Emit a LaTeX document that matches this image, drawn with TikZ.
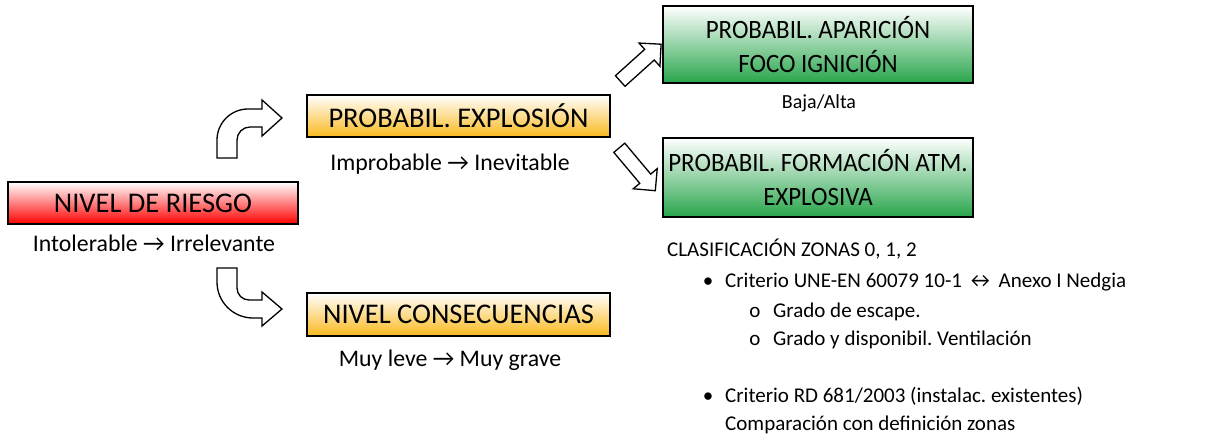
\documentclass[tikz,border=0pt]{standalone}
\usepackage{fontspec}
\setmainfont{Carlito}
\newfontfamily\narrowfont[FakeStretch=0.94]{Carlito}
\frenchspacing
\usetikzlibrary{shapes.arrows}
\definecolor{rgred}{RGB}{255,0,0}
\definecolor{rgorange}{RGB}{250,185,30}
\definecolor{rggreen}{RGB}{40,165,75}

\begin{document}
\begin{tikzpicture}[x=1pt, y=-1pt,
  box/.style={draw, line width=1.2pt, align=center, inner sep=0pt,
    font=\fontsize{28.5}{34}\selectfont},
  gbox/.style={box, top color=white, bottom color=rggreen, minimum width=310pt,
    font=\narrowfont\fontsize{26.5}{34}\selectfont},
  lbl/.style={anchor=base, inner sep=0pt, font=\fontsize{23.8}{28}\selectfont},
  lst/.style={anchor=base west, inner sep=0pt, font=\fontsize{21}{25}\selectfont},
  dot/.style={anchor=base, inner sep=0pt, font=\fontsize{21}{25}\selectfont},
  bent/.style={draw, fill=white, line width=1.3pt, line join=miter},
  blk/.style={single arrow, draw, fill=white, line width=1.3pt, inner sep=0pt,
    single arrow head extend=8.5pt}]
\useasboundingbox (0,0) rectangle (1206,439);
% Left: Nivel de riesgo
\node[box, top color=white, bottom color=rgred, minimum width=290pt, minimum height=42pt] (riesgo) at (153,203) {NIVEL DE RIESGO};
\node[lbl] (riesgoval) at (154,251) {Intolerable → Irrelevante};
% Middle: Probabilidad / consecuencias
\node[box, top color=white, bottom color=rgorange, minimum width=303pt, minimum height=42pt] (explo) at (458.5,116) {PROBABIL. EXPLOSIÓN};
\node[lbl] (exploval) at (450,170) {Improbable → Inevitable};
\node[box, top color=white, bottom color=rgorange, minimum width=303pt, minimum height=43pt] (conse) at (458.5,314.5) {NIVEL CONSECUENCIAS};
\node[lbl] (conseval) at (450,366) {Muy leve → Muy grave};
% Right: factores
\node[gbox, minimum height=77pt] (foco) at (818,44.5) {PROBABIL. APARICIÓN\\FOCO IGNICIÓN};
\node[lbl, font=\fontsize{20}{24}\selectfont] (focoval) at (819,108) {Baja/Alta};
\node[gbox, minimum height=79pt] (atm) at (818,177.5) {PROBABIL. FORMACIÓN ATM.\\EXPLOSIVA};
% Clasificacion de zonas
\node[lst] (zonas) at (667,256) {CLASIFICACIÓN ZONAS 0, 1, 2};
\node[dot] (b1) at (708,287) {•};
\node[lst] (crit1) at (725,287) {Criterio UNE-EN 60079 10-1 ↔ Anexo I Nedgia};
\node[dot] (c1) at (755,317) {o};
\node[lst] (grado1) at (773,317) {Grado de escape.};
\node[dot] (c2) at (755,345) {o};
\node[lst] (grado2) at (773,345) {Grado y disponibil. Ventilación};
\node[dot] (b2) at (708,402) {•};
\node[lst] (crit2) at (725,402) {Criterio RD 681/2003 (instalac. existentes)};
\node[lst] (compar) at (725,430) {Comparación con definición zonas};
% Block arrows
\draw[bent] (217,158) -- (217,140) arc[start angle=180, end angle=270, radius=31]
  -- (262,109) -- (262,100) -- (282,118) -- (262,136) -- (262,127) -- (250,127)
  arc[start angle=270, end angle=180, radius=13] -- (237,158) -- cycle;
\draw[bent] (217,268) -- (217,282) arc[start angle=180, end angle=90, radius=36]
  -- (262,318) -- (262,326) -- (282,309) -- (262,292) -- (262,300) -- (249,300)
  arc[start angle=90, end angle=180, radius=12] -- (237,268) -- cycle;
\node[blk, minimum height=55pt, rotate=42] (up) at (638,65) {\rule{0pt}{13pt}};
\node[blk, minimum height=56pt, rotate=-50] (down) at (635,166.5) {\rule{0pt}{13pt}};
\end{tikzpicture}
\end{document}
